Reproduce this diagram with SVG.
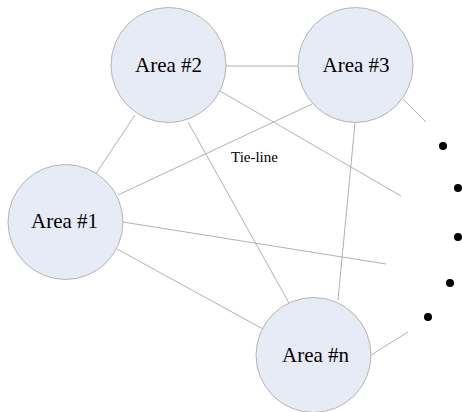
<svg xmlns="http://www.w3.org/2000/svg" width="462" height="412" viewBox="0 0 462 412">
<style>
.node circle{fill:#e7ebf6;stroke:#b4b4b4;stroke-width:1}
.node text{font-family:"Liberation Serif","Times New Roman",serif;font-size:21px;fill:#000;text-anchor:middle}
.edges line{stroke:#a8a8a8;stroke-width:0.9}
.lbl{font-family:"Liberation Serif","Times New Roman",serif;font-size:15px;fill:#000}
.dot{fill:#000}
</style>
<rect width="462" height="412" fill="#fff"/>
<g class="edges" id="connectors">
<line x1="226" y1="66" x2="298" y2="66"/>
<line x1="220" y1="91" x2="401" y2="196"/>
<line x1="135" y1="115" x2="95" y2="175"/>
<line x1="188" y1="122" x2="289" y2="303"/>
<line x1="312" y1="104" x2="118" y2="195"/>
<line x1="355" y1="123" x2="338" y2="300"/>
<line x1="403" y1="99" x2="426" y2="122"/>
<line x1="123" y1="222" x2="386" y2="264"/>
<line x1="117" y1="249" x2="263" y2="329"/>
<line x1="371" y1="355" x2="408" y2="332"/>
</g>
<g id="area2" class="node"><circle cx="168.5" cy="65" r="57.5"/><text x="168.5" y="72">Area #2</text></g>
<g id="area3" class="node"><circle cx="355.5" cy="65" r="57.5"/><text x="356" y="72">Area #3</text></g>
<g id="area1" class="node"><circle cx="65.5" cy="222" r="57.5"/><text x="64.5" y="228">Area #1</text></g>
<g id="arean" class="node"><circle cx="313.5" cy="355" r="57.5"/><text x="315.5" y="362">Area #n</text></g>
<text class="lbl" x="231" y="162">Tie-line</text>
<g id="ellipsis">
<circle class="dot" cx="443" cy="146" r="4"/>
<circle class="dot" cx="458" cy="188" r="4"/>
<circle class="dot" cx="458" cy="237" r="4"/>
<circle class="dot" cx="450" cy="283" r="4"/>
<circle class="dot" cx="428" cy="317" r="4"/>
</g>
</svg>
